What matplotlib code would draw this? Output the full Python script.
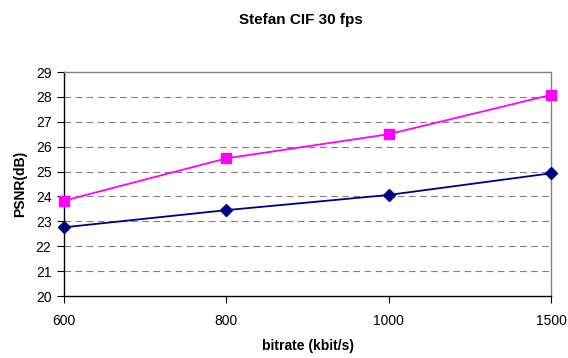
import numpy as np
import matplotlib.pyplot as plt

plt.rcParams['font.family'] = ['Liberation Sans', 'DejaVu Sans']

# bitrate points (kbit/s), plotted as evenly spaced categories
bitrates = ['600', '800', '1000', '1500']
psnr_top = [23.83, 25.53, 26.5, 28.08]
psnr_bottom = [22.76, 23.45, 24.06, 24.93]
yticks = list(range(20, 30))

fig = plt.figure(figsize=(5.68, 3.58), dpi=100)
ax = fig.add_axes([64 / 568, 1 - 296 / 358, (551 - 64) / 568, (296 - 72) / 358])

x = np.arange(len(bitrates))
ax.plot(x, psnr_top, color='#ff00ff', marker='s', markersize=7, lw=1.3, clip_on=False, zorder=3)
ax.plot(x, psnr_bottom, color='#000080', marker='D', markersize=6, lw=1.3, clip_on=False, zorder=3)

ax.set_xlim(0, len(bitrates) - 1)
ax.set_ylim(20, 29)
ax.set_xticks(x)
ax.set_xticklabels(bitrates)
ax.set_yticks(yticks)

# dashed horizontal grid
for y in yticks[1:-1]:
    ax.axhline(y, color='#808080', lw=0.8, ls=(0, (6, 4)), zorder=1)

for side in ['left', 'bottom']:
    ax.spines[side].set_color('#000000')
    ax.spines[side].set_linewidth(1.0)
for side in ['top', 'right']:
    ax.spines[side].set_color('#808080')
    ax.spines[side].set_linewidth(1.0)

ax.tick_params(axis='both', direction='out', length=5, width=0.8, labelsize=10, colors='#000000')
ax.tick_params(axis='x', pad=8)
ax.tick_params(axis='y', pad=4)

ax.set_xlabel('bitrate (kbit/s)', fontsize=10, fontweight='bold', labelpad=8)
ax.set_ylabel('PSNR(dB)', fontsize=10, fontweight='bold', labelpad=6)
fig.text(0.53, 1 - 20 / 358, 'Stefan CIF 30 fps', ha='center', va='center', fontsize=11, fontweight='bold')

fig.savefig('out.png', dpi=100)
